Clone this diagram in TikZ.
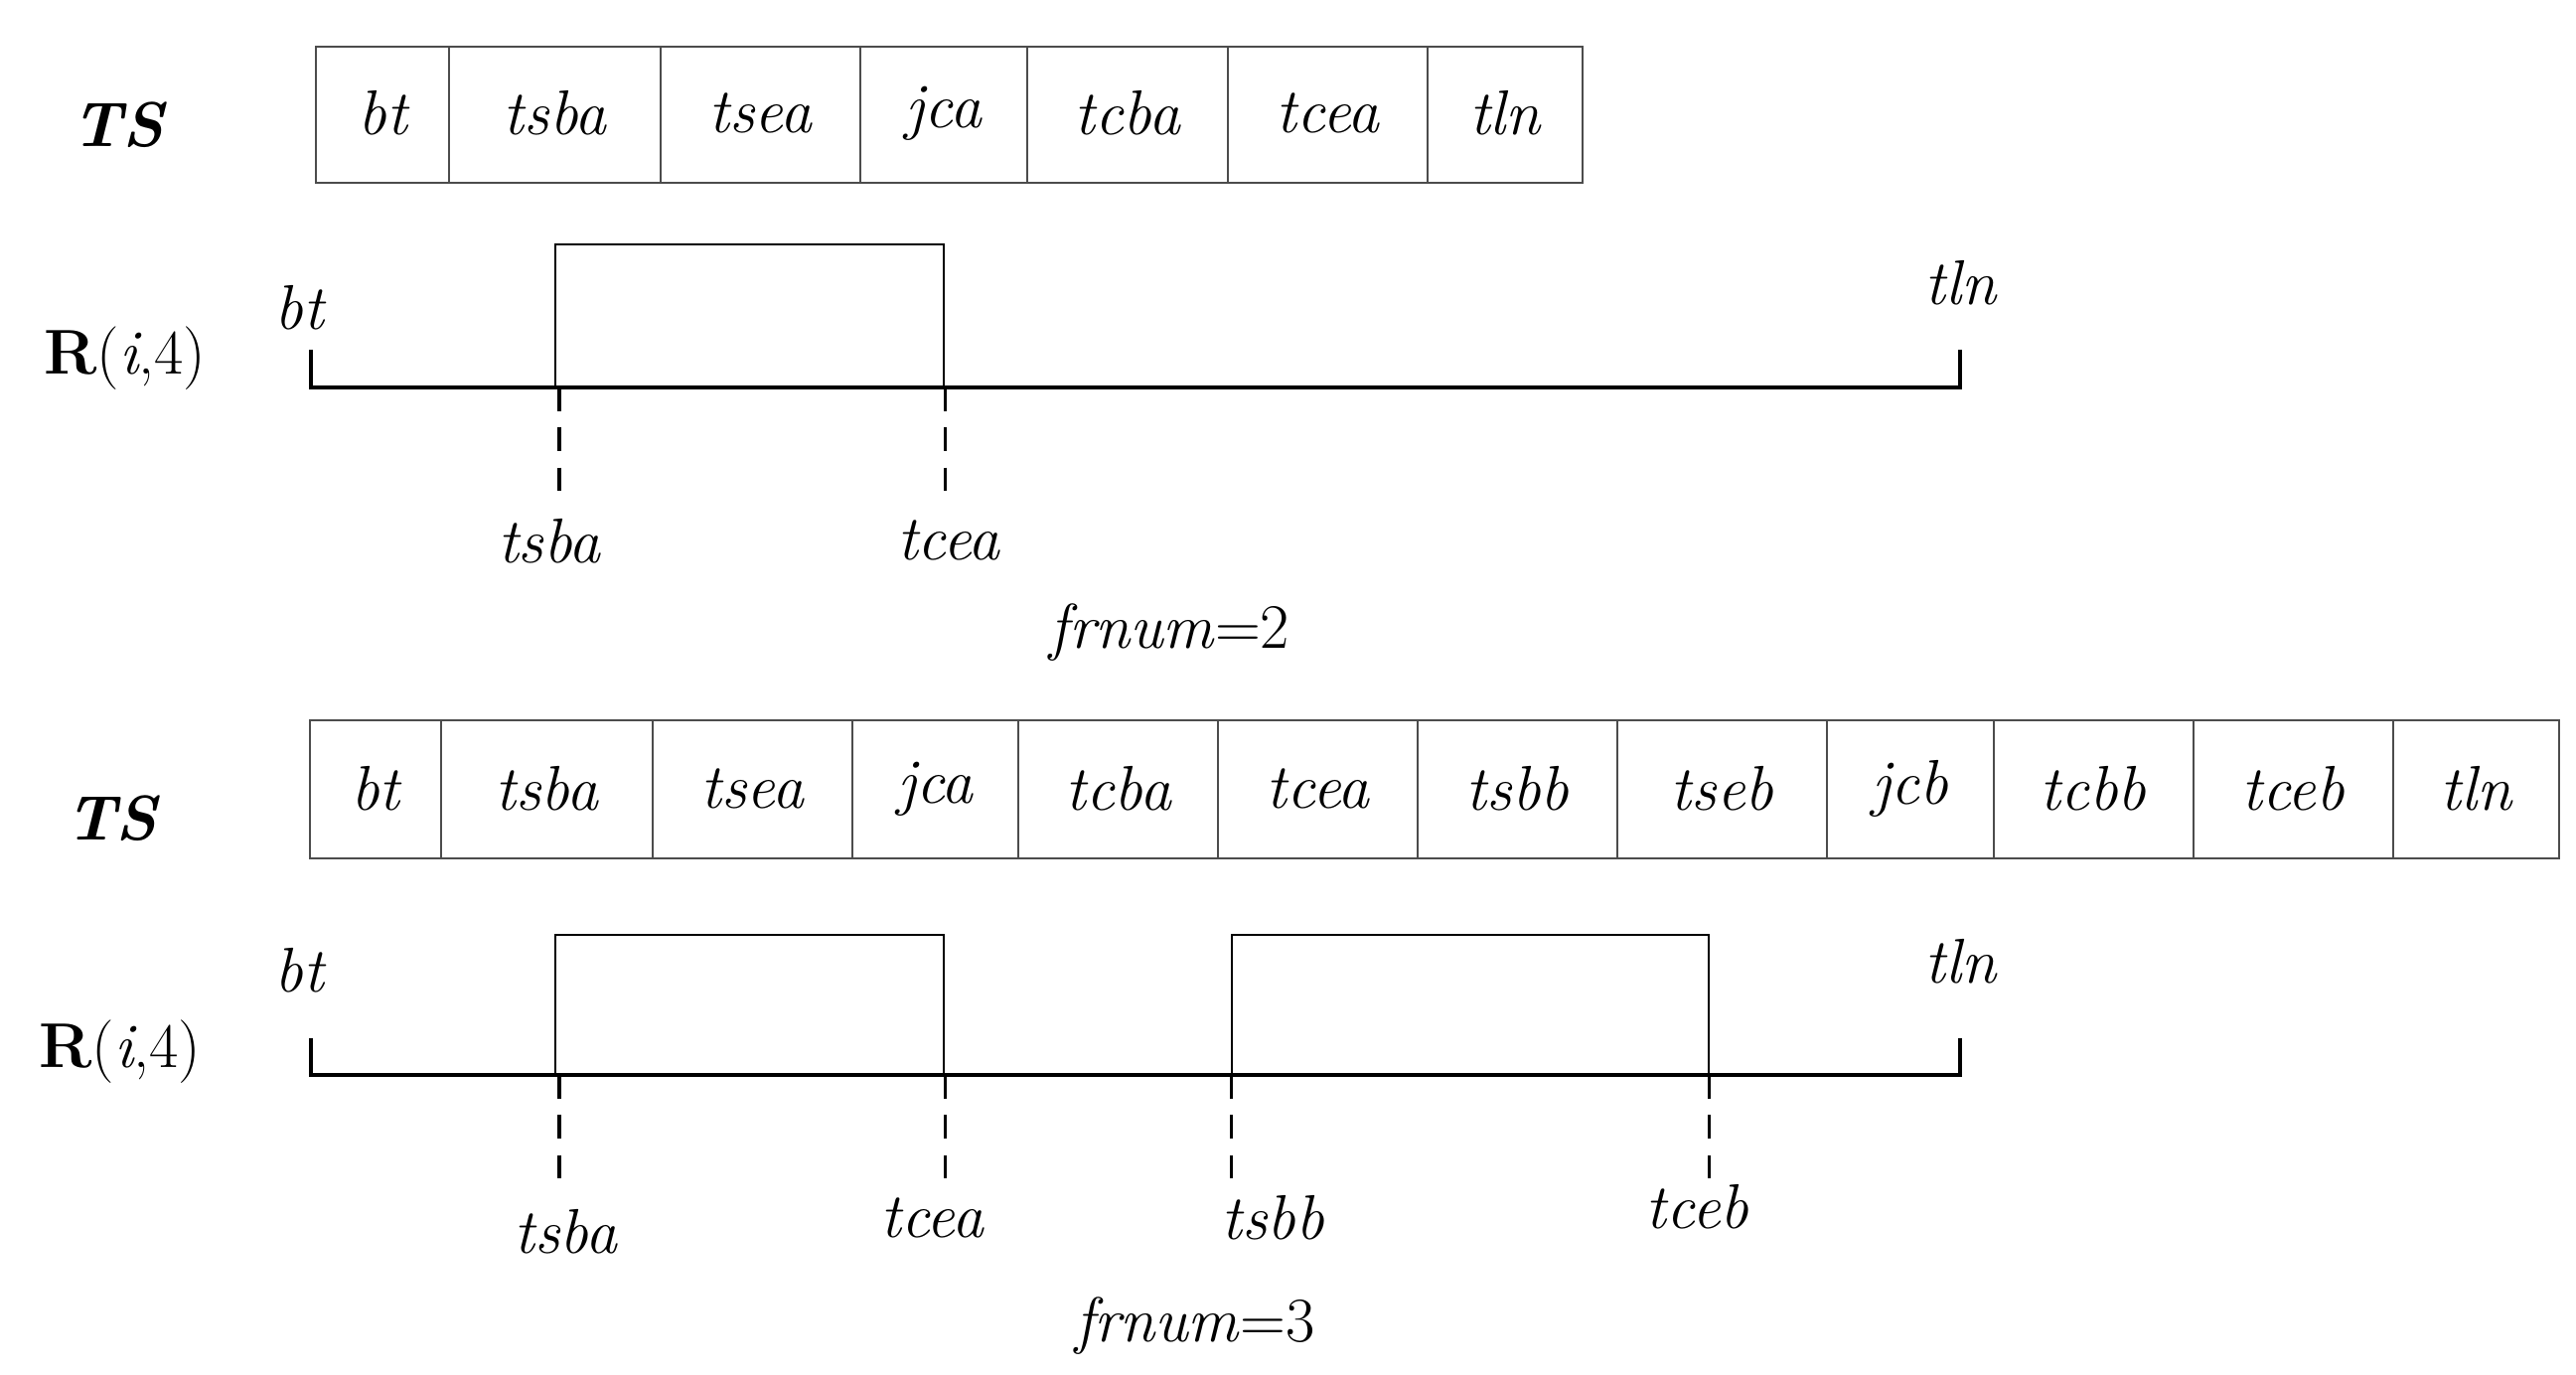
\documentclass[tikz,border=0pt]{standalone}
\begin{document}
\begin{tikzpicture}[x=1pt,y=-1pt,
  lbl/.style={font=\fontsize{38}{44}\selectfont\itshape,inner sep=0pt},
  big/.style={font=\fontsize{38}{44}\selectfont,inner sep=0pt},
  cellbox/.style={draw=black!70,line width=1.2pt},
  tl/.style={line width=2.6pt},
  dsh/.style={line width=2pt,dash pattern=on 14pt off 10pt},
  pulse/.style={draw,line width=1.2pt}]
\useasboundingbox (0,0) rectangle (1548,826.2);
% top TS
\node[big] (ts1) at (72,75) {\textbf{\textit{TS}}};
\foreach \a/\b/\t [count=\i] in {190/270/bt,270/397/tsba,397/517/tsea,517/617/jca,617/738/tcba,738/858/tcea,858/951/tln}{
  \draw[cellbox] (\a,28) rectangle (\b,110);
  \node[lbl] (c1\i) at ({(\a+\b)/2},68) {\t};}
\node[big] (r1) at (75,215) {\textbf{R}(\textit{i},4)};
\coordinate (a0) at (187,233); \coordinate (a1) at (1178,233);
\draw[tl] (187,210) -- (a0) -- (a1) -- (1178,210);
\node[lbl] (bt1) at (180,185) {bt};
\node[lbl] (tln1) at (1178,170) {tln};
\draw[pulse] (334,233) -- (334,147) -- (567,147) -- (567,233);
\coordinate (d1) at (336,233); \coordinate (d2) at (568,233);
\draw[dsh] (d1) -- (336,298); \draw[dsh] (d2) -- (568,298);
\node[lbl] (l1) at (330,325) {tsba};
\node[lbl] (l2) at (570,325) {tcea};
\node[big] (f1) at (703,380) {\textit{frnum}=2};
% bottom TS
\node[big] (ts2) at (68,492) {\textbf{\textit{TS}}};
\foreach \a/\b/\t [count=\i] in {186/265/bt,265/392/tsba,392/512/tsea,512/612/jca,612/732/tcba,732/852/tcea,852/972/tsbb,972/1098/tseb,1098/1198/jcb,1198/1318/tcbb,1318/1438/tceb,1438/1538/tln}{
  \draw[cellbox] (\a,433) rectangle (\b,516);
  \node[lbl] (c2\i) at ({(\a+\b)/2},474) {\t};}
\node[big] (r2) at (72,632) {\textbf{R}(\textit{i},4)};
\coordinate (b0) at (187,646); \coordinate (b1) at (1178,646);
\draw[tl] (187,624) -- (b0) -- (b1) -- (1178,624);
\node[lbl] (bt2) at (180,583) {bt};
\node[lbl] (tln2) at (1178,578) {tln};
\draw[pulse] (334,646) -- (334,562) -- (567,562) -- (567,646);
\draw[pulse] (740,646) -- (740,562) -- (1027,562) -- (1027,646);
\foreach \x in {336,568,740,1027}{\coordinate (e\x) at (\x,646); \draw[dsh] (e\x) -- (\x,712);}
\node[lbl] (m1) at (340,740) {tsba};
\node[lbl] (m2) at (560,732) {tcea};
\node[lbl] (m3) at (765,732) {tsbb};
\node[lbl] (m4) at (1020,725) {tceb};
\node[big] (f2) at (718,797) {\textit{frnum}=3};
\end{tikzpicture}
\end{document}
